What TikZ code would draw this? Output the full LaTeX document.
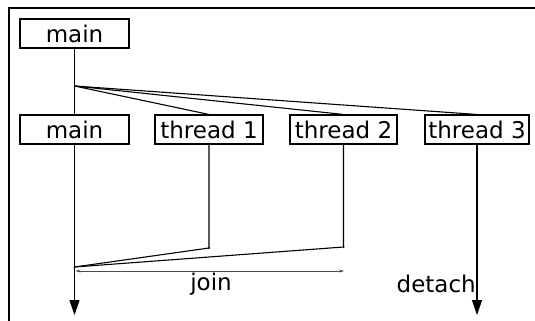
\documentclass[tikz,border=0pt]{standalone}
\usepackage{fontspec}
\setmainfont{DejaVu Sans}
\usetikzlibrary{arrows.meta}
\begin{document}
\begin{tikzpicture}[x=1pt,y=1pt,
  box/.style={draw,line width=1.1pt,minimum height=29pt,inner sep=0pt,font=\fontsize{23}{26}\selectfont},
  lane/.style={line width=1.1pt},
  bigarrow/.style={line width=1.1pt,-{Triangle[length=15pt,width=10pt]}},
  lbl/.style={font=\fontsize{23}{26}\selectfont,inner sep=0pt}]
\useasboundingbox (0,0) rectangle (535,-321);
\draw[line width=2.5pt] (9,-321) -- (9,-8) -- (535,-8);
\node[box,minimum width=109pt] (m0) at (74.5,-33.5) {main};
\node[box,minimum width=109pt] (m1) at (74.5,-129.5) {main};
\node[box,minimum width=108pt] (t1) at (209,-129.5) {thread 1};
\node[box,minimum width=107pt] (t2) at (343.5,-129.5) {thread 2};
\node[box,minimum width=104pt] (t3) at (477,-129.5) {thread 3};
\coordinate (br) at (74.5,-86);
\coordinate (t1e) at (209,-248);
\coordinate (t2e) at (343.5,-247);
\coordinate (jn) at (74.5,-267);
\coordinate (mend) at (74.5,-315);
\coordinate (t3end) at (477,-315);
\coordinate (ja) at (75.5,-271);
\coordinate (jb) at (344,-271);
\draw[lane] (m0.south) -- (br) -- (m1.north);
\draw[lane] (br) -- (t1.north);
\draw[lane] (br) -- (t2.north);
\draw[lane] (br) -- (t3.north);
\draw[bigarrow] (m1.south) -- (mend);
\draw[lane] (t1.south) -- (t1e) -- (jn);
\draw[lane] (t2.south) -- (t2e) -- (jn);
\fill (t1e) circle (1pt) (t2e) circle (1pt) (jn) circle (1pt);
\draw[bigarrow] (t3.south) -- (t3end);
\draw[line width=0.5pt,black!70,{Stealth[length=5pt,width=3pt]}-{Stealth[length=5pt,width=3pt]}] (ja) -- (jb);
\node[lbl] (join) at (211,-284) {join};
\node[lbl,anchor=east] (det) at (476,-284) {detach};
\end{tikzpicture}
\end{document}
